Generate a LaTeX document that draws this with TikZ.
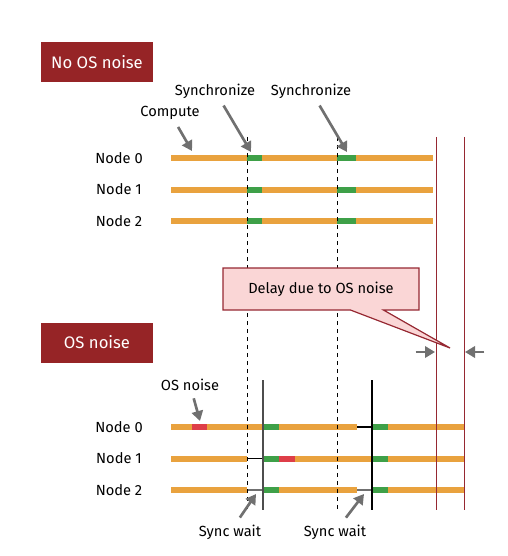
\documentclass[tikz,border=0pt]{standalone}
\usepackage{fontspec}
\setmainfont{Fira Sans}
\usetikzlibrary{arrows.meta,shapes.callouts}

\definecolor{barorange}{RGB}{233,162,62}
\definecolor{syncgreen}{RGB}{62,160,72}
\definecolor{noisered}{RGB}{222,62,72}
\definecolor{darkred}{RGB}{150,36,38}
\definecolor{linered}{RGB}{150,40,50}
\definecolor{calloutpink}{RGB}{250,214,214}
\definecolor{ptrgray}{RGB}{112,112,112}

\tikzset{every picture/.style={line width=0.75pt}}

\begin{document}
\begin{tikzpicture}[x=0.75pt,y=0.75pt,yscale=-1,xscale=1,
  lbl/.style={font=\fontsize{11}{13}\selectfont},
  titlebox/.style={fill=darkred,text=white,minimum width=84pt,minimum height=30pt,font=\fontsize{12.5}{14}\selectfont},
  bar/.style={line width=4.5pt,barorange},
  syncbar/.style={line width=4.5pt,syncgreen},
  noisebar/.style={line width=4.5pt,noisered},
  waitline/.style={line width=0.9pt,black},
  syncline/.style={line width=0.6pt,dash pattern=on 3pt off 3pt},
  limitline/.style={line width=0.7pt,linered},
  ptr/.style={line width=2pt,ptrgray,-{Triangle[length=7.5pt,width=8.5pt]},shorten <=2pt}]

\useasboundingbox (0,0) rectangle (507,556);

%Shape: Title boxes
\node[titlebox] (noOS) at (97,62) {No OS noise};
\node[titlebox] (withOS) at (97,342.5) {OS noise};

% Text Node: row labels, no noise
\node[lbl] (a0) at (119,158) {Node 0};
\node[lbl] (a1) at (119,189.5) {Node 1};
\node[lbl] (a2) at (119,221) {Node 2};
% Text Node: row labels, with noise
\node[lbl] (b0) at (119,427) {Node 0};
\node[lbl] (b1) at (119,458.5) {Node 1};
\node[lbl] (b2) at (119,490) {Node 2};

%Shape: bars without noise
\draw[bar] (171,158) -- (433,158);
\draw[bar] (171,189.5) -- (433,189.5);
\draw[bar] (171,221) -- (433,221);
\draw[syncbar] (247,158) -- (262,158);
\draw[syncbar] (247,189.5) -- (262,189.5);
\draw[syncbar] (247,221) -- (262,221);
\draw[syncbar] (337,158) -- (356,158);
\draw[syncbar] (337,189.5) -- (356,189.5);
\draw[syncbar] (337,221) -- (356,221);

%Shape: bars with noise, node 0
\draw[bar] (171,427) -- (357,427);
\draw[bar] (388,427) -- (464,427);
\draw[noisebar] (192,427) -- (207,427);
\draw[syncbar] (263,427) -- (279,427);
\draw[waitline] (357,427) -- (372,427);
\draw[syncbar] (372,427) -- (388,427);
%Shape: bars with noise, node 1
\draw[bar] (171,458.5) -- (247,458.5);
\draw[waitline] (247,458.5) -- (263,458.5);
\draw[syncbar] (263,458.5) -- (279,458.5);
\draw[noisebar] (279,458.5) -- (295,458.5);
\draw[bar] (295,458.5) -- (372,458.5);
\draw[syncbar] (372,458.5) -- (388,458.5);
\draw[bar] (388,458.5) -- (464,458.5);
%Shape: bars with noise, node 2
\draw[bar] (171,490) -- (247,490);
\draw[waitline,ptrgray] (247,490) -- (263,490);
\draw[syncbar] (263,490) -- (279,490);
\draw[bar] (279,490) -- (357,490);
\draw[waitline,ptrgray] (357,490) -- (372,490);
\draw[syncbar] (372,490) -- (388,490);
\draw[bar] (388,490) -- (464,490);

%Shape: synchronization lines
\draw[syncline] (247,137) -- (247,510);
\draw[syncline] (337,137) -- (337,510);
\draw[waitline,ptrgray!70!black] (263,380) -- (263,510);
\draw[waitline] (372,380) -- (372,510);
\draw[limitline] (436,137) -- (436,510);
\draw[limitline] (464,137) -- (464,510);

% Text Node: callout
\node[rectangle callout,draw=linered,fill=calloutpink,line width=0.9pt,
  minimum width=147pt,minimum height=31.5pt,callout pointer width=24.75pt,
  callout absolute pointer={(450,348)},lbl] (delay) at (321,289) {Delay due to OS noise};

% Text Node: annotations
\node[lbl] (comp) at (170,113) {Compute};
\node[lbl] (sync1) at (215,91) {Synchronize};
\node[lbl] (sync2) at (311,91) {Synchronize};
\node[lbl] (noise) at (190,385) {OS noise};
\node[lbl] (wait1) at (230,532) {Sync wait};
\node[lbl] (wait2) at (335,532) {Sync wait};

\coordinate (compT) at (192,151);
\coordinate (sync1T) at (251,152);
\coordinate (sync2T) at (347,152);
\coordinate (noiseT) at (200,421);
\coordinate (wait1T) at (256,494);
\coordinate (wait2T) at (364,494);
\coordinate (gapL) at (413,352);
\coordinate (gapLT) at (435,352);
\coordinate (gapR) at (487,352);
\coordinate (gapRT) at (465,352);

%Arrows
\draw[ptr] (comp) -- (compT);
\draw[ptr] (sync1) -- (sync1T);
\draw[ptr] (sync2) -- (sync2T);
\draw[ptr] (noise) -- (noiseT);
\draw[ptr] (wait1) -- (wait1T);
\draw[ptr] (wait2) -- (wait2T);
\draw[ptr] (gapL) -- (gapLT);
\draw[ptr] (gapR) -- (gapRT);

\end{tikzpicture}
\end{document}
